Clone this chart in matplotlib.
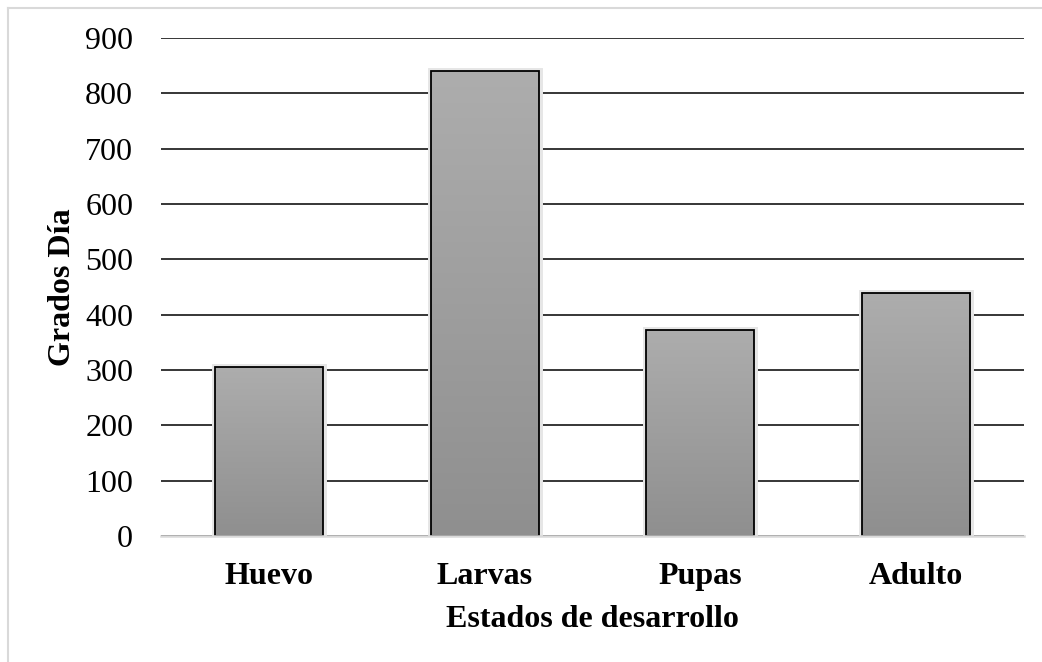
import matplotlib
matplotlib.use('Agg')
import matplotlib.pyplot as plt
from matplotlib.patches import Rectangle
from matplotlib.lines import Line2D
from matplotlib.colors import LinearSegmentedColormap
import numpy as np

estados = ['Huevo', 'Larvas', 'Pupas', 'Adulto']
grados_dia = [306, 840, 373, 440]
yticks = [0, 100, 200, 300, 400, 500, 600, 700, 800, 900]

plt.rcParams['font.family'] = ['Liberation Serif', 'DejaVu Serif']

fig = plt.figure(figsize=(10.42, 6.62), dpi=100)
ax = fig.add_axes([0.1545, 0.1903, 0.8282, 0.7523])

x = np.arange(len(estados))
bars = ax.bar(x, grados_dia, width=0.5, color='none', edgecolor='black',
              linewidth=1.3, zorder=3)

# degradado gris dentro de cada barra + sombra suave alrededor
cmap = LinearSegmentedColormap.from_list('gris', ['#8f8f8f', '#adadad'])
grad = np.linspace(0, 1, 256).reshape(-1, 1)
for b in bars:
    bx, by = b.get_x(), b.get_y()
    w, h = b.get_width(), b.get_height()
    ax.add_patch(Rectangle((bx, by), w, h, facecolor='none', edgecolor='#e6e6e6',
                           linewidth=5, zorder=2.2))
    im = ax.imshow(grad, cmap=cmap, origin='lower', aspect='auto',
                   extent=[bx, bx + w, by, by + h], zorder=2.5)
    im.set_clip_path(b)

ax.set_xlim(-0.5, 3.5)
ax.set_ylim(0, 900)
ax.set_yticks(yticks)
ax.set_xticks(x)
ax.set_xticklabels(estados, fontweight='bold')
ax.tick_params(axis='both', length=0, labelsize=23)
ax.tick_params(axis='y', pad=20)
ax.tick_params(axis='x', pad=19)

ax.grid(axis='y', color='black', linewidth=1.1, zorder=0)
ax.set_axisbelow(True)
for s in ['top', 'right', 'left']:
    ax.spines[s].set_visible(False)
ax.spines['bottom'].set_color('#d9d9d9')
ax.spines['bottom'].set_linewidth(1.8)
ax.spines['bottom'].set_zorder(4)

ax.set_ylabel('Grados Día', fontsize=23, fontweight='bold', labelpad=6)
ax.set_xlabel('Estados de desarrollo', fontsize=23, fontweight='bold', labelpad=10)

# marco exterior (solo arriba e izquierda visibles)
fig.add_artist(Line2D([7.5 / 1042, 1], [1 - 8 / 662, 1 - 8 / 662],
                      color='#d9d9d9', linewidth=1.5, transform=fig.transFigure))
fig.add_artist(Line2D([7.5 / 1042, 7.5 / 1042], [0, 1 - 8 / 662],
                      color='#d9d9d9', linewidth=1.5, transform=fig.transFigure))

fig.savefig('out.png', dpi=100)
